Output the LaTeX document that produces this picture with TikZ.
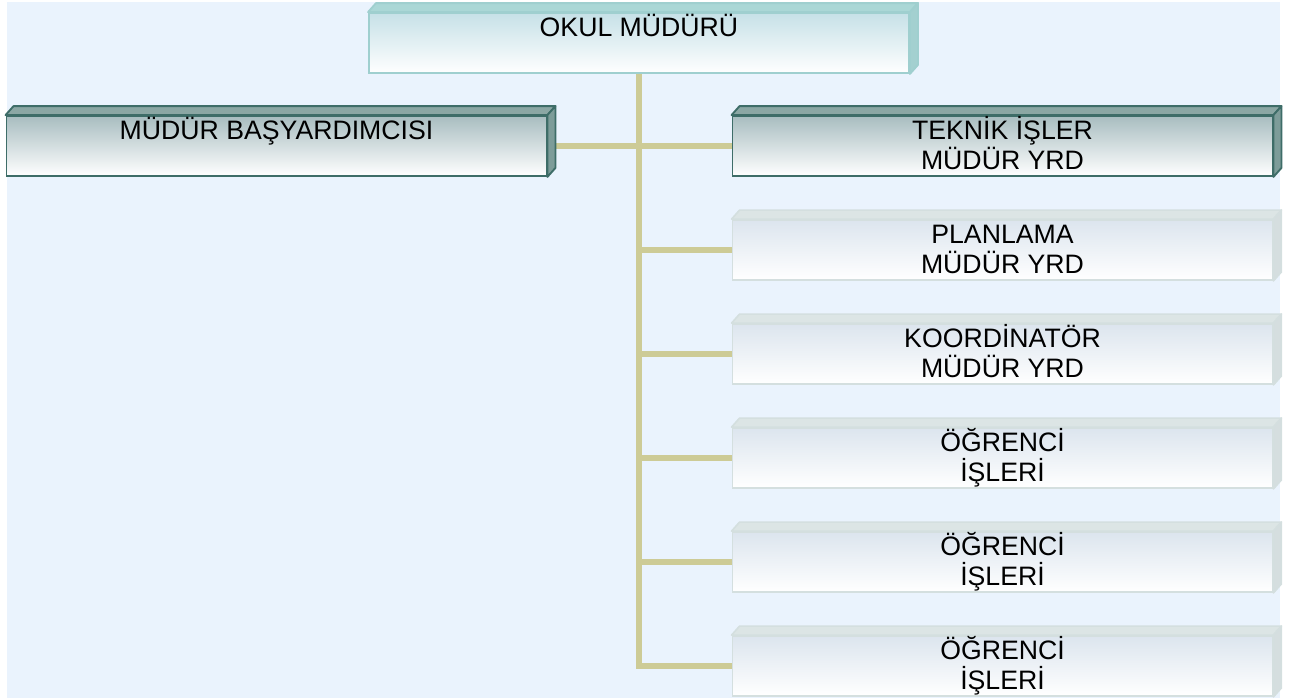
\documentclass[tikz,border=0pt]{standalone}
\usepackage{fontspec}
\setmainfont{Liberation Sans}
\pgfdeclarelayer{bg}
\pgfdeclarelayer{lines}
\pgfsetlayers{bg,lines,main}
\definecolor{pagebg}{HTML}{EAF3FD}
\definecolor{linkc}{HTML}{CDCB96}
\definecolor{okedge}{HTML}{9FCFCF}
\definecolor{oktop}{HTML}{AAD7D6}
\definecolor{okside}{HTML}{A3D0D0}
\definecolor{okfill}{HTML}{C6E1E7}
\definecolor{dkedge}{HTML}{3E6D68}
\definecolor{dktop}{HTML}{8BA7A4}
\definecolor{dkside}{HTML}{7D9C99}
\definecolor{dkfill}{HTML}{A8BDC0}
\definecolor{ltedge}{HTML}{D4DFDF}
\definecolor{lttop}{HTML}{DCE5E5}
\definecolor{ltside}{HTML}{D5DEDF}
\definecolor{ltfill}{HTML}{DCE5EE}
\tikzset{
  frontbase/.style={rectangle, inner sep=0pt, minimum width=405pt, minimum height=45pt, line width=1.4pt},
  okfront/.style={frontbase, draw=okedge, top color=okfill, bottom color=white},
  oktopf/.style={fill=oktop, draw=okedge, line width=1.4pt, line join=round},
  oksidef/.style={fill=okside, draw=okedge, line width=1.4pt, line join=round},
  dkfront/.style={frontbase, draw=dkedge, top color=dkfill, bottom color=white},
  dktopf/.style={fill=dktop, draw=dkedge, line width=1.4pt, line join=round},
  dksidef/.style={fill=dkside, draw=dkedge, line width=1.4pt, line join=round},
  ltfront/.style={frontbase, draw=ltedge, top color=ltfill, bottom color=white},
  lttopf/.style={fill=lttop, draw=ltedge, line width=1.2pt, line join=round},
  ltsidef/.style={fill=ltside, draw=ltedge, line width=1.2pt, line join=round},
  lbl/.style={inner sep=0pt, anchor=north, align=center, font=\fontsize{20}{22.5}\selectfont},
  link/.style={draw=linkc, line width=4.5pt, line join=miter}
}
\newcommand{\orgbox}[4]{%
  \node[#3front] (#1) at #2 {};
  \path[#3topf] (#1.north west) -- ++(8,-9) -- ([shift={(8,-9)}]#1.north east) -- (#1.north east) -- cycle;
  \path[#3sidef] (#1.north east) -- ++(8,-9) -- ([shift={(8,-9)}]#1.south east) -- (#1.south east) -- cycle;
  \node[lbl] (#1t) at ([yshift=2pt]#1.north) {\rule{0pt}{20pt}#4};
}
\begin{document}
\begin{tikzpicture}[x=0.75pt,y=-0.75pt]
\useasboundingbox (0,0) rectangle (1293,700);
\begin{pgfonlayer}{bg}
  \fill[pagebg] (7,2) rectangle (1280,698);
\end{pgfonlayer}
\orgbox{okul}{(639,43)}{ok}{OKUL MÜDÜRÜ}
\orgbox{bas}{(276.5,146)}{dk}{MÜDÜR BAŞYARDIMCISI}
\orgbox{tek}{(1002.5,146)}{dk}{TEKNİK İŞLER\\MÜDÜR YRD}
\orgbox{pla}{(1002.5,250)}{lt}{PLANLAMA\\MÜDÜR YRD}
\orgbox{koo}{(1002.5,354)}{lt}{KOORDİNATÖR\\MÜDÜR YRD}
\orgbox{ogra}{(1002.5,458)}{lt}{ÖĞRENCİ\\İŞLERİ}
\orgbox{ogrb}{(1002.5,562)}{lt}{ÖĞRENCİ\\İŞLERİ}
\orgbox{ogrc}{(1002.5,666)}{lt}{ÖĞRENCİ\\İŞLERİ}
\begin{pgfonlayer}{lines}
  \path[link] (okul.south) -- (okul.south |- ogrc.west) -- (ogrc.west);
  \path[link] (okul.south |- bas.east) -- ([xshift=6pt]bas.east);
  \path[link] (okul.south |- tek.west) -- (tek.west);
  \path[link] (okul.south |- pla.west) -- (pla.west);
  \path[link] (okul.south |- koo.west) -- (koo.west);
  \path[link] (okul.south |- ogra.west) -- (ogra.west);
  \path[link] (okul.south |- ogrb.west) -- (ogrb.west);
\end{pgfonlayer}
\end{tikzpicture}
\end{document}
